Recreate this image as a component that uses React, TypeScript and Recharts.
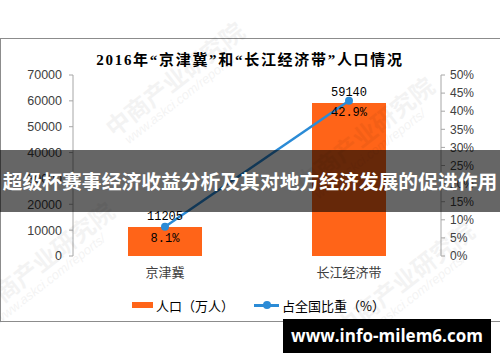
import React from 'react';
import { ComposedChart, Bar, Line, XAxis, YAxis, LabelList } from 'recharts';

const categories = ['京津冀', '长江经济带'];
const population = [11205, 59140];
const share = [8.1, 42.9];
const leftTicks = [0, 10000, 20000, 30000, 40000, 50000, 60000, 70000];
const rightTicks = [0, 5, 10, 15, 20, 25, 30, 35, 40, 45, 50];
const boundaryTicks = [0, 1, 2];

const title = '2016年“京津冀”和“长江经济带”人口情况';
const barName = '人口（万人）';
const lineName = '占全国比重（%）';
const banner = '超级杯赛事经济收益分析及其对地方经济发展的促进作用';
const site = 'www.info-milem6.com';

const ORANGE = '#FF6418';
const BLUE = '#2B8BD6';
const AXIS = '#A6A6A6';
const CJK = '"Noto Sans CJK SC", sans-serif';

const data = categories.map((name, i) => ({ name, pop: population[i], pct: share[i], pos: i + 0.5 }));

// faint publisher watermark, as on the source image
const Watermark: React.FC<{ left: number; top: number }> = ({ left, top }) => (
  <div
    style={{
      position: 'absolute', left, top, transform: 'rotate(-38deg)', transformOrigin: 'left top',
      color: '#000', opacity: 0.045, fontFamily: CJK, whiteSpace: 'nowrap', lineHeight: 1.1,
    }}
  >
    <div style={{ fontSize: 24, fontWeight: 700 }}>中商产业研究院</div>
    <div style={{ fontSize: 13, fontStyle: 'italic', fontFamily: '"Liberation Sans", sans-serif', marginLeft: 8 }}>
      www.askci.com/reports/
    </div>
  </div>
);

export default function App() {
  return (
    <div style={{ position: 'fixed', left: 0, top: 0, width: 500, height: 362, background: '#fff', overflow: 'hidden' }}>
      <div style={{ position: 'absolute', left: 0, top: 38, width: 520, height: 282, border: '1px solid #8C8C8C' }} />
      <div
        style={{
          position: 'absolute', left: 0, width: 500, top: 50, textAlign: 'center', fontSize: 15, fontWeight: 700,
          fontFamily: '"Liberation Serif", "Noto Sans CJK SC", serif', color: '#000', lineHeight: '20px',
          letterSpacing: 1.7,
        }}
      >
        {title}
      </div>
      <ComposedChart
        width={500}
        height={362}
        data={data}
        margin={{ top: 75, right: 0, bottom: 76, left: 0 }}
        style={{ position: 'absolute', left: 0, top: 0 }}
      >
        <XAxis
          xAxisId="bound"
          type="number"
          dataKey="pos"
          domain={[0, 2]}
          ticks={boundaryTicks}
          height={0}
          tick={false}
          tickLine={{ stroke: AXIS }}
          tickSize={5}
          axisLine={{ stroke: AXIS }}
        />
        <XAxis
          dataKey="name"
          height={30}
          axisLine={false}
          tickLine={false}
          tick={{ fill: '#404040', fontSize: 13, fontFamily: CJK }}
          tickMargin={6}
        />
        <YAxis
          yAxisId="left"
          width={73}
          domain={[0, 70000]}
          ticks={leftTicks}
          interval={0}
          axisLine={{ stroke: AXIS }}
          tickLine={{ stroke: AXIS }}
          tickSize={4}
          tickMargin={7}
          tick={{ fill: '#404040', fontSize: 12.5, fontFamily: '"Liberation Sans", sans-serif' }}
        />
        <YAxis
          yAxisId="right"
          orientation="right"
          width={59}
          domain={[0, 50]}
          ticks={rightTicks}
          interval={0}
          tickFormatter={(v: number) => `${v}%`}
          axisLine={{ stroke: AXIS }}
          tickLine={{ stroke: AXIS }}
          tickSize={4}
          tickMargin={5}
          tick={{ fill: '#404040', fontSize: 12, fontFamily: '"Liberation Sans", sans-serif' }}
        />
        <Bar yAxisId="left" dataKey="pop" fill={ORANGE} barSize={74} isAnimationActive={false}>
          <LabelList
            dataKey="pop"
            position="top"
            offset={7}
            fill="#000"
            style={{ fontSize: 12, fontFamily: '"Liberation Mono", monospace' }}
          />
        </Bar>
        <Line
          yAxisId="right"
          dataKey="pct"
          stroke={BLUE}
          strokeWidth={2.5}
          dot={{ r: 4, fill: BLUE, stroke: BLUE, strokeWidth: 0 }}
          isAnimationActive={false}
        >
          <LabelList
            dataKey="pct"
            position="bottom"
            offset={7}
            formatter={(v: number) => `${v}%`}
            fill="#000"
            style={{ fontSize: 12, fontFamily: '"Liberation Mono", monospace' }}
          />
        </Line>
      </ComposedChart>

      <div style={{ position: 'absolute', top: 296, left: 132, height: 18, display: 'flex', alignItems: 'center', fontFamily: CJK, fontSize: 13, color: '#000' }}>
        <span style={{ display: 'inline-block', width: 21, height: 6, background: ORANGE, marginRight: 3 }} />
        <span>{barName}</span>
        <span style={{ position: 'relative', display: 'inline-block', width: 25, height: 3, background: BLUE, marginLeft: 20, marginRight: 3 }}>
          <span style={{ position: 'absolute', left: 8.5, top: -2.5, width: 8, height: 8, borderRadius: 4, background: BLUE }} />
        </span>
        <span>{lineName}</span>
      </div>

      <Watermark left={100} top={120} />
      <Watermark left={290} top={175} />
      <Watermark left={330} top={320} />
      <Watermark left={-30} top={300} />

      <div
        style={{
          position: 'absolute', left: 0, top: 150, width: 500, height: 62, background: 'rgba(0,0,0,0.6)',
          color: '#fff', fontFamily: CJK, fontWeight: 700, fontSize: 19.8, lineHeight: '62px', textAlign: 'center',
          whiteSpace: 'nowrap',
        }}
      >
        {banner}
      </div>
      <div
        style={{
          position: 'absolute', left: 283, top: 319, width: 208, height: 34, background: '#000', color: '#fff',
          fontFamily: '"Open Sans", sans-serif', fontWeight: 700, fontSize: 17, lineHeight: '34px', textAlign: 'center',
        }}
      >
        {site}
      </div>
    </div>
  );
}
